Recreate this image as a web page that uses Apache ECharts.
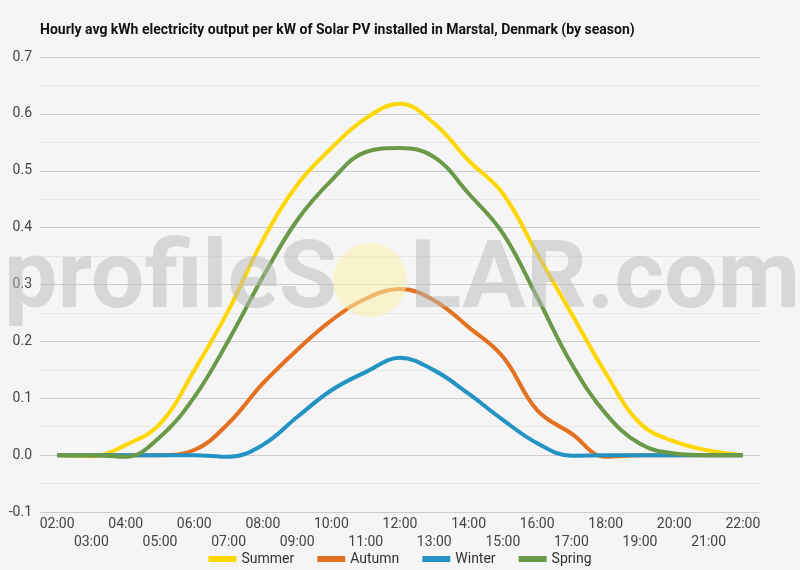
<html><head>
<meta charset="utf-8">
<title>Marstal solar PV</title>
<script src="https://cdn.jsdelivr.net/npm/echarts@6/dist/echarts.min.js"></script>
<style>
  body { margin: 0; background: #f5f5f5; }
  #main { width: 800px; height: 570px; }
</style>
</head>
<body>
<div id="main"></div>
<script>
// hours on the x axis
var hours = ['02:00','03:00','04:00','05:00','06:00','07:00','08:00','09:00','10:00','11:00','12:00',
             '13:00','14:00','15:00','16:00','17:00','18:00','19:00','20:00','21:00','22:00'];

// kWh per kW
var summer = [0, -0.002, 0.018, 0.055, 0.149, 0.255, 0.378, 0.475, 0.54, 0.592, 0.618,
              0.583, 0.518, 0.46, 0.354, 0.249, 0.144, 0.056, 0.024, 0.008, 0];
var autumn = [0, 0, 0, 0, 0.009, 0.056, 0.126, 0.185, 0.237, 0.275, 0.292,
              0.272, 0.225, 0.173, 0.079, 0.038, -0.003, 0, 0, 0, 0];
var winter = [0, 0, 0, 0, 0, -0.003, 0.018, 0.067, 0.114, 0.146, 0.171,
              0.149, 0.108, 0.062, 0.021, -0.001, 0, 0, 0, 0, 0];
var spring = [0, 0, -0.003, 0.032, 0.102, 0.202, 0.313, 0.413, 0.483, 0.533, 0.54,
              0.524, 0.46, 0.39, 0.278, 0.161, 0.073, 0.02, 0.003, 0, 0];

var names = ['Summer', 'Autumn', 'Winter', 'Spring'];
var colors = ['#ffd700', '#e3711f', '#2393c4', '#6a9a48'];

var myChart = echarts.init(document.getElementById('main'));

function line(name, data, i) {
    return {
        name: name,
        type: 'line',
        data: data,
        smooth: 0.4,
        symbol: 'none',
        lineStyle: { width: 4, color: colors[i] },
        itemStyle: { color: colors[i] }
    };
}

var option = {
    backgroundColor: '#f5f5f5',
    textStyle: { fontFamily: 'Roboto' },
    title: {
        text: 'Hourly avg kWh electricity output per kW of Solar PV installed in Marstal, Denmark (by season)',
        left: 35, top: 18,
        textStyle: { fontSize: 14, fontWeight: 'bold', color: '#111', fontFamily: 'Roboto' }
    },
    legend: {
        data: names,
        bottom: -1,
        icon: 'rect',
        itemWidth: 28,
        itemHeight: 6,
        itemGap: 23,
        textStyle: { fontSize: 14, color: '#333' }
    },
    grid: { left: 40, right: 40, top: 57, bottom: 58 },
    xAxis: {
        type: 'category',
        data: hours,
        boundaryGap: true,
        axisTick: { show: false },
        axisLine: { lineStyle: { color: '#ccc' } },
        axisLabel: {
            interval: 0,
            fontSize: 14,
            color: '#444',
            margin: 3,
            lineHeight: 18,
            formatter: function (v, idx) { return idx % 2 ? '\n' + v : v; }
        }
    },
    yAxis: {
        type: 'value',
        min: -0.1, max: 0.7, interval: 0.1,
        axisLabel: {
            fontSize: 14, color: '#444', margin: 8,
            formatter: function (v) { return v.toFixed(1); }
        },
        splitLine: { lineStyle: { color: ['#ccc', '#333', '#ccc', '#ccc', '#ccc', '#ccc', '#ccc', '#ccc', '#ccc'] } },
        minorTick: { show: false, splitNumber: 2 },
        minorSplitLine: { show: true, lineStyle: { color: '#e6e6e6' } }
    },
    graphic: [
        {
            type: 'circle', z: 100,
            shape: { cx: 370, cy: 280, r: 37 },
            style: { fill: 'rgba(250,240,170,0.55)' }
        },
        {
            type: 'text', z: 100, left: 4, top: 236,
            style: { text: 'profileS', font: 'bold 95px Roboto', fill: 'rgba(185,185,185,0.5)' }
        },
        {
            type: 'text', z: 100, left: 410, top: 236,
            style: { text: 'LAR.com', font: 'bold 95px Roboto', fill: 'rgba(185,185,185,0.5)' }
        }
    ],
    series: [
        line('Summer', summer, 0),
        line('Autumn', autumn, 1),
        line('Winter', winter, 2),
        line('Spring', spring, 3)
    ]
};

myChart.setOption(option);
</script>
</body>
</html>
